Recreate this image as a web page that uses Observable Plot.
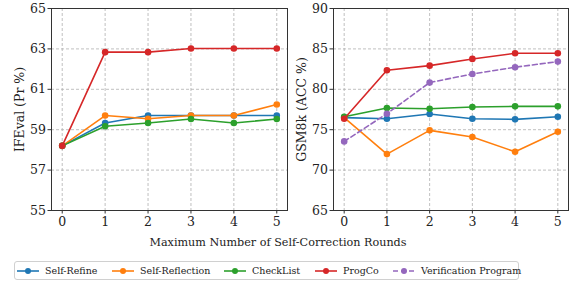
<!DOCTYPE html>
<html>
<head>
<meta charset="utf-8">
<script src="https://cdn.jsdelivr.net/npm/d3@7"></script>
<script src="https://cdn.jsdelivr.net/npm/@observablehq/plot@0.6"></script>
<style>
  body { margin: 0; background: #fff; font-family: "DejaVu Serif", serif; }
  #wrap { position: relative; width: 582px; height: 282px; }
  .panel { position: absolute; top: 0; }
  .panel svg text { font-family: "DejaVu Serif", serif; }
  #xtitle { position: absolute; left: 0; width: 556px; top: 236px; text-align: center; font-size: 11.2px; color: #222; font-family: "DejaVu Serif", serif; }
  #legend { position: absolute; left: 14px; top: 261px; width: 505px; height: 19px; border: 1px solid #d0d0d0; border-radius: 3px; box-sizing: border-box; }
  .item { position: absolute; top: 0; height: 17px; display: flex; align-items: center; font-size: 9.5px; color: #222; white-space: nowrap; font-family: "DejaVu Serif", serif; }
  .item svg { margin-right: 6px; }
</style>
</head>
<body>
<div id="wrap">
  <div id="left" class="panel" style="left:0px"></div>
  <div id="right" class="panel" style="left:290px"></div>
  <div id="xtitle">Maximum Number of Self-Correction Rounds</div>
  <div id="legend"></div>
</div>
<script>
const rounds = [0, 1, 2, 3, 4, 5];
const methods = ["Self-Refine", "Self-Reflection", "CheckList", "ProgCo", "Verification Program"];
const colors = ["#1f77b4", "#ff7f0e", "#2ca02c", "#d62728", "#9467bd"];
const dashes = ["none", "none", "none", "none", "5,3"];

// IFEval (Pr %)
const ifevalSelfRefine     = [58.2, 59.33, 59.7, 59.7, 59.7, 59.7];
const ifevalSelfReflection = [58.2, 59.7, 59.54, 59.7, 59.7, 60.25];
const ifevalCheckList      = [58.2, 59.17, 59.33, 59.53, 59.33, 59.53];
const ifevalProgCo         = [58.2, 62.84, 62.84, 63.02, 63.02, 63.02];

// GSM8k (ACC %)
const gsmSelfRefine     = [76.49, 76.36, 76.94, 76.36, 76.28, 76.61];
const gsmSelfReflection = [76.5, 71.98, 74.92, 74.09, 72.27, 74.75];
const gsmCheckList      = [76.6, 77.69, 77.6, 77.81, 77.89, 77.89];
const gsmProgCo         = [76.36, 82.36, 82.93, 83.76, 84.46, 84.46];
const gsmVerification   = [73.55, 76.98, 80.83, 81.9, 82.73, 83.43];

const ifevalTicks = [55, 57, 59, 61, 63, 65];
const gsmTicks = [65, 70, 75, 80, 85, 90];

function rows(series) {
  const out = [];
  series.forEach(([name, vals]) => vals.forEach((v, i) => out.push({method: name, round: rounds[i], value: v})));
  return out;
}

const ifevalData = rows([
  ["Self-Refine", ifevalSelfRefine],
  ["Self-Reflection", ifevalSelfReflection],
  ["CheckList", ifevalCheckList],
  ["ProgCo", ifevalProgCo]
]);
const gsmData = rows([
  ["Self-Refine", gsmSelfRefine],
  ["Self-Reflection", gsmSelfReflection],
  ["CheckList", gsmCheckList],
  ["ProgCo", gsmProgCo],
  ["Verification Program", gsmVerification]
]);

function panel(data, yDomain, yTicks, label, w, mLeft, mRight, labelOffset) {
  const font = "DejaVu Serif";
  const marks = [
    Plot.gridX(rounds, {stroke: "#b0b0b0", strokeOpacity: 1, strokeDasharray: "3,2", strokeWidth: 0.8}),
    Plot.gridY(yTicks, {stroke: "#b0b0b0", strokeOpacity: 1, strokeDasharray: "3,2", strokeWidth: 0.8}),
    Plot.axisX(rounds, {tickSize: 3.5, tickPadding: 3, fontSize: 12.5, fontFamily: font, label: null, stroke: "#333"}),
    Plot.axisY(yTicks, {tickSize: 3.5, tickPadding: 2, fontSize: 12.5, fontFamily: font, label, labelAnchor: "center", labelArrow: "none", labelOffset, stroke: "#333"})
  ];
  const present = methods.filter(m => data.some(d => d.method === m));
  present.forEach(m => {
    const i = methods.indexOf(m);
    const d = data.filter(r => r.method === m);
    marks.push(Plot.line(d, {x: "round", y: "value", stroke: colors[i], strokeWidth: 1.6, strokeDasharray: dashes[i] === "none" ? null : dashes[i]}));
    marks.push(Plot.dot(d, {x: "round", y: "value", fill: colors[i], r: 3.3}));
  });
  marks.push(Plot.frame({stroke: "#333", strokeWidth: 1}));
  return Plot.plot({
    width: w, height: 230,
    marginLeft: mLeft, marginRight: mRight, marginTop: 8, marginBottom: 20,
    style: {fontFamily: font, fontSize: "12px", color: "#222", background: "transparent"},
    x: {domain: [-0.25, 5.25]},
    y: {domain: yDomain},
    marks
  });
}

document.getElementById("left").appendChild(panel(ifevalData, [55, 65], ifevalTicks, "IFEval (Pr %)", 290, 51, 3, 36));
document.getElementById("right").appendChild(panel(gsmData, [65, 90], gsmTicks, "GSM8k (ACC %)", 292, 43, 14, 36));

// legend
const legendPos = [[2, 29], [97, 124], [209, 236], [300, 327], [378, 405]];
const leg = document.getElementById("legend");
methods.forEach((m, i) => {
  const div = document.createElement("div");
  div.className = "item";
  div.style.left = legendPos[i][0] + "px";
  const ns = "http://www.w3.org/2000/svg";
  const svg = document.createElementNS(ns, "svg");
  svg.setAttribute("width", 22); svg.setAttribute("height", 10);
  const line = document.createElementNS(ns, "line");
  line.setAttribute("x1", 0); line.setAttribute("x2", 22); line.setAttribute("y1", 5); line.setAttribute("y2", 5);
  line.setAttribute("stroke", colors[i]); line.setAttribute("stroke-width", 1.6);
  if (dashes[i] !== "none") line.setAttribute("stroke-dasharray", "5,3");
  const c = document.createElementNS(ns, "circle");
  c.setAttribute("cx", 11); c.setAttribute("cy", 5); c.setAttribute("r", 3); c.setAttribute("fill", colors[i]);
  svg.appendChild(line); svg.appendChild(c);
  const span = document.createElement("span");
  span.textContent = m;
  div.appendChild(svg); div.appendChild(span);
  leg.appendChild(div);
});
</script>
</body>
</html>
